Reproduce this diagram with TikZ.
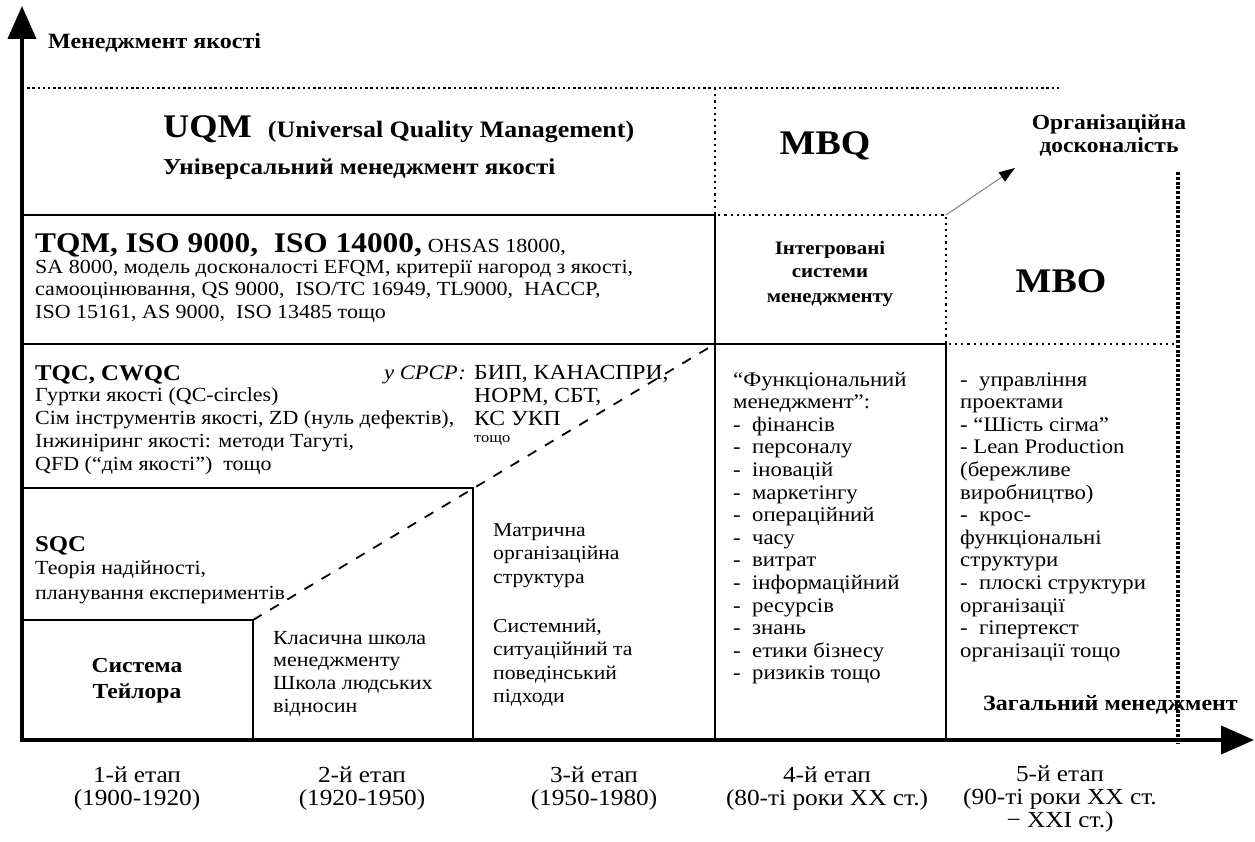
\documentclass[tikz,border=0pt]{standalone}
\usepackage{fontspec}
\setmainfont{Liberation Serif}[FakeStretch=1.1]
\usetikzlibrary{arrows.meta}

\begin{document}
\begin{tikzpicture}[x=1pt,y=-1pt,
  axis/.style={line width=4pt,-{Triangle[length=33pt,width=28pt]}},
  frame/.style={line width=1.8pt},
  dotline/.style={line width=2.4pt,dash pattern=on 2.4pt off 2.8pt},
  thindot/.style={line width=2.2pt,dash pattern=on 2.2pt off 4pt},
  heavydot/.style={line width=3.2pt,dash pattern=on 3pt off 1.8pt},
  dashline/.style={line width=1.8pt,dash pattern=on 10pt off 10pt},
  txt/.style={inner sep=0pt,align=left,anchor=base west,font=\fontsize{20}{22.6}\selectfont},
  ctxt/.style={inner sep=0pt,align=center,anchor=base,font=\fontsize{23}{22.6}\selectfont},
  list/.style={txt,font=\fontsize{20.7}{22.6}\selectfont},
  head/.style={inner sep=0pt,anchor=base west,font=\fontsize{22.5}{24}\selectfont\bfseries},
  big/.style={inner sep=0pt,anchor=base,font=\fontsize{34.5}{36}\selectfont\bfseries},
  bhead/.style={inner sep=0pt,align=center,anchor=base,font=\fontsize{19}{24}\selectfont\bfseries},
]
\useasboundingbox (0,0) rectangle (1255,842);

% axes
\coordinate (O) at (22,740);
\coordinate (ytip) at (22,6);
\coordinate (xtip) at (1254,740);
\draw[axis] (O) -- (ytip);
\draw[axis] (20,740) -- (xtip);

% grid of stages and levels
\coordinate (a1) at (22,215);  \coordinate (a2) at (715,215);
\coordinate (b1) at (22,344);  \coordinate (b2) at (715,344); \coordinate (b3) at (946,344); \coordinate (b4) at (1178,344);
\coordinate (c1) at (22,488);  \coordinate (c2) at (473,488); \coordinate (c3) at (473,740);
\coordinate (d1) at (22,620);  \coordinate (d2) at (253,620); \coordinate (d3) at (253,740);
\coordinate (e1) at (715,740); \coordinate (e2) at (946,740);
\coordinate (t1) at (22,88);   \coordinate (t2) at (1060,88);  \coordinate (t3) at (715,88);
\coordinate (m1) at (946,215);
\coordinate (h1) at (1178,172); \coordinate (h2) at (1178,744);

\draw[frame] (a1) -- (a2) -- (e1);
\draw[frame] (b1) -- (b3) -- (e2);
\draw[frame] (c1) -- (c2) -- (c3);
\draw[frame] (d1) -- (d2) -- (d3);
\draw[dashline] (d2) -- (b2);
\draw[dotline] (t1) -- (t2);
\draw[thindot] (t3) -- (a2) -- (m1) -- (b3) -- (b4);
\draw[heavydot] (h1) -- (h2);

% axis titles
\node[txt,font=\fontsize{21.8}{24}\selectfont\bfseries] (ylab) at (48,49) {Менеджмент якості};
\node[txt,font=\fontsize{21.8}{24}\selectfont\bfseries] (xlab) at (983,710) {Загальний менеджмент};

% level headers
\node[txt] (uqm) at (163,138) {{\fontsize{33}{36}\selectfont\bfseries UQM}\hspace{16pt}{\fontsize{23.6}{25}\selectfont\bfseries (Universal Quality Management)}};
\node[txt,font=\fontsize{22.7}{24}\selectfont\bfseries] (uqmua) at (163,175) {Універсальний менеджмент якості};
\node[big] (mbq) at (825,155) {MBQ};
\node[big] (mbo) at (1061,293) {MBO};
\node[bhead,font=\fontsize{21.4}{23}\selectfont\bfseries] (org) at (1109,153) {Організаційна\\досконалість};
\node[bhead] (ism) at (830,302) {Інтегровані\\системи\\менеджменту};

\coordinate (orgarr) at (1015,168);
\draw[gray,line width=1pt,-{Triangle[length=16pt,width=11pt,color=black]}] (m1) -- (orgarr);

% TQM level
\node[head,font=\fontsize{28.5}{30}\selectfont\bfseries] (tqm) at (35,253) {TQM, ISO 9000,\ \ ISO 14000,};
\node[txt] (ohsas) at (tqm.base east) {\ OHSAS 18000,};
\node[txt] (tqmtxt) at (35,318.2) {SA 8000, модель досконалості EFQM, критерії нагород з якості,\\самооцінювання, QS 9000,\ \ ISO/TC 16949, TL9000,\ \ HACCP,\\ISO 15161, AS 9000,\ \ ISO 13485 тощо};

% TQC level
\node[head] (tqc) at (35,380) {TQC, CWQC};
\node[txt,font=\fontsize{20}{23}\selectfont] (tqctxt) at (35,470.5) {Гуртки якості (QC-circles)\\Сім інструментів якості,\ ZD (нуль дефектів),\\Інжиніринг якості: методи Тагуті,\\QFD (“дім якості”)\ \ тощо};
\node[txt,anchor=base east,font=\fontsize{20.6}{23}\selectfont\itshape] (ussr) at (466,379) {у СРСР:};
\node[txt,font=\fontsize{21.5}{23}\selectfont] (ussrtxt) at (474,425) {БИП, КАНАСПРИ,\\НОРМ, СБТ,\\КС УКП};
\node[txt,font=\fontsize{15}{18}\selectfont] (ussrend) at (474,442) {тощо};

% SQC level
\node[head] (sqc) at (35,551) {SQC};
\node[txt,font=\fontsize{20}{25}\selectfont] (sqctxt) at (35,599) {Теорія надійності,\\планування експериментів};

% stage 1..3 contents
\node[bhead,font=\fontsize{21.4}{26}\selectfont\bfseries] (taylor) at (137,698) {Система\\Тейлора};
\node[txt,font=\fontsize{20}{22.8}\selectfont] (classic) at (273,712.5) {Класична школа\\менеджменту\\Школа людських\\відносин};
\node[txt,font=\fontsize{19.7}{23.5}\selectfont] (matrix) at (493,583) {Матрична\\організаційна\\структура};
\node[txt,font=\fontsize{19.7}{23.5}\selectfont] (system) at (493,702.5) {Системний,\\ситуаційний та\\поведінський\\підходи};

% stage 4 and 5 contents
\node[list] (func) at (733,679.8) {“Функціональний\\менеджмент”:\\-\ \ фінансів\\-\ \ персоналу\\-\ \ іновацій\\-\ \ маркетінгу\\-\ \ операційний\\-\ \ часу\\-\ \ витрат\\-\ \ інформаційний\\-\ \ ресурсів\\-\ \ знань\\-\ \ етики бізнесу\\-\ \ ризиків тощо};
\node[list] (mbolist) at (960,657.2) {-\ \ управління\\проектами\\- “Шість сігма”\\- Lean Production\\(бережливе\\виробництво)\\-\ \ крос-\\функціональні\\структури\\-\ \ плоскі структури\\організації\\-\ \ гіпертекст\\організації тощо};

% stage labels
\node[ctxt] (st1) at (137,805) {1-й етап\\(1900-1920)};
\node[ctxt] (st2) at (362,805) {2-й етап\\(1920-1950)};
\node[ctxt] (st3) at (594,805) {3-й етап\\(1950-1980)};
\node[ctxt] (st4) at (827,805) {4-й етап\\(80-ті роки XX ст.)};
\node[ctxt] (st5) at (1060,827) {5-й етап\\(90-ті роки XX ст.\\− XXІ ст.)};
\end{tikzpicture}
\end{document}
